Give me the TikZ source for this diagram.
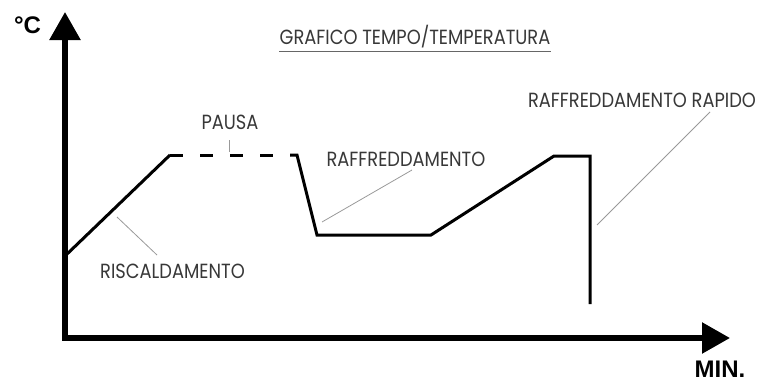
\documentclass[tikz,border=0pt]{standalone}
\usepackage{fontspec}
\setmainfont{Poppins}[FakeStretch=0.87]
\newfontfamily\boldlab{Liberation Sans}
\usetikzlibrary{arrows.meta}
\begin{document}
\begin{tikzpicture}[x=1pt,y=-1pt,
  lab/.style={text=black!78, font=\fontsize{20.5}{20.5}\selectfont, inner sep=0pt},
  curve/.style={line width=3pt, line join=miter},
  leader/.style={draw=black!40, line width=0.8pt},
  axislab/.style={font=\boldlab\bfseries\fontsize{24}{24}\selectfont, inner sep=0pt},
  axis/.style={line width=5.5pt, line join=miter}]
\useasboundingbox (0,0) rectangle (762,383);
% axes
\coordinate (ytip) at (65,12);
\coordinate (origin) at (65,338);
\coordinate (xtip) at (730,338);
\draw[axis, {Triangle[length=28pt,width=30pt]}-{Triangle[length=28pt,width=30pt]}] (ytip) -- (origin) -- (xtip);
\node[axislab] (degc) at (27.5,25) {°C};
\node[axislab] (min) at (720,369) {MIN.};
% curve points
\coordinate (p0) at (65,256);
\coordinate (p1) at (170,155);
\coordinate (p2) at (290,155);
\coordinate (p3) at (297,155);
\coordinate (p4) at (317,235);
\coordinate (p5) at (431,235);
\coordinate (p6) at (554,156);
\coordinate (p7) at (590,156);
\coordinate (p8) at (590,304);
\draw[curve] (p0) -- (p1);
\draw[curve, dash pattern=on 13pt off 17pt] (p1) -- (p2);
\draw[curve] (p2) -- (p3) -- (p4) -- (p5) -- (p6) -- (p7) -- (p8);
% labels
\node[lab] (title) at (415,36.5) {GRAFICO TEMPO/TEMPERATURA};
\draw[draw=black!60, line width=0.8pt] ([yshift=-3.5pt]title.south west) -- ([yshift=-3.5pt]title.south east);
\node[lab] (pausa) at (230,122.5) {PAUSA};
\node[lab] (raff) at (406,159.5) {RAFFREDDAMENTO};
\node[lab] (rapido) at (642,100.5) {RAFFREDDAMENTO RAPIDO};
\node[lab] (risc) at (172.5,271) {RISCALDAMENTO};
% leaders
\coordinate (lpa) at (229,140);
\coordinate (lpb) at (229,152);
\coordinate (lra) at (412,170);
\coordinate (lrb) at (322,222);
\coordinate (lsa) at (117,217);
\coordinate (lsb) at (157,255);
\coordinate (lqa) at (710,112);
\coordinate (lqb) at (597,225);
\draw[leader] (lpa) -- (lpb);
\draw[leader] (lra) -- (lrb);
\draw[leader] (lsa) -- (lsb);
\draw[leader] (lqa) -- (lqb);
\end{tikzpicture}
\end{document}
